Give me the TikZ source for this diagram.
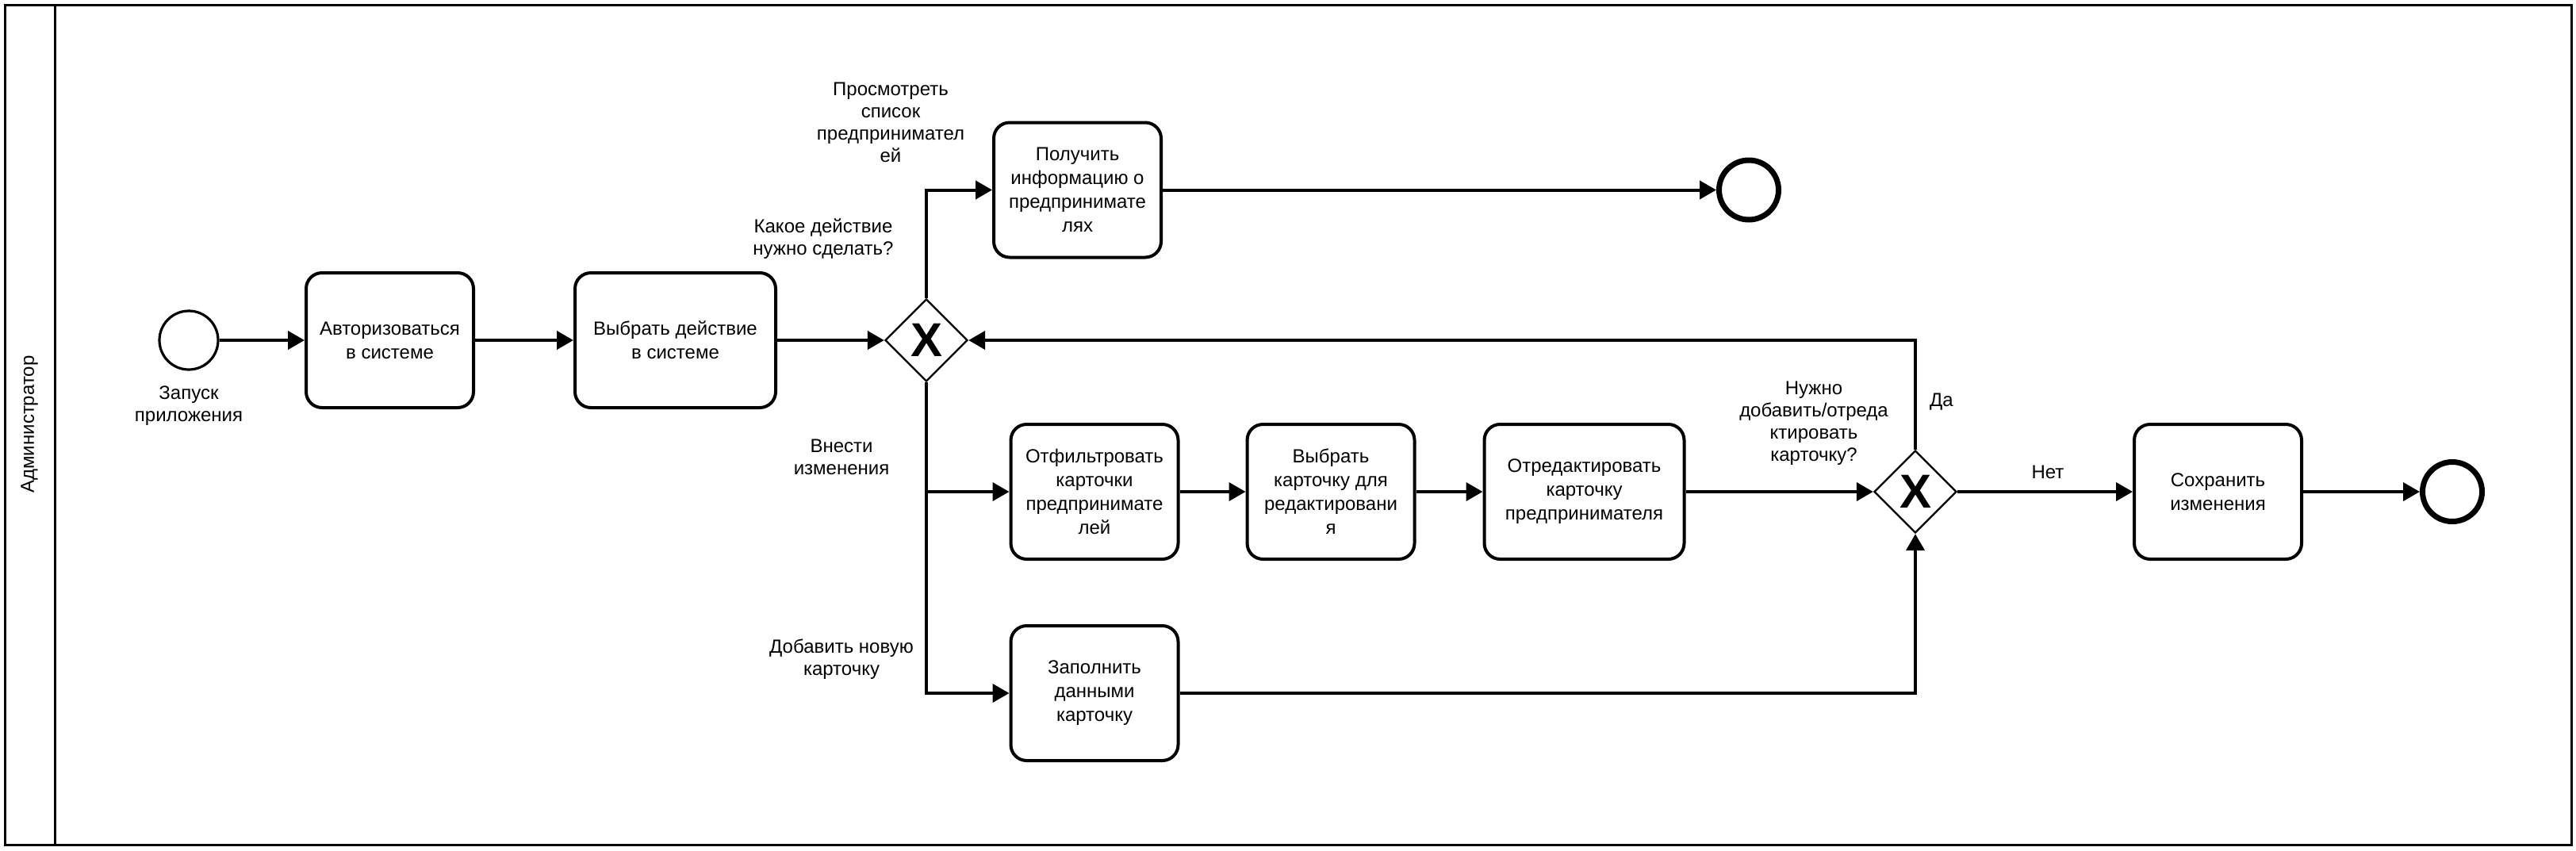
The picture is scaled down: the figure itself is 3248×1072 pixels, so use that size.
\documentclass[tikz,border=0pt]{standalone}
\usepackage{fontspec}
\setmainfont{Liberation Sans}
\usetikzlibrary{arrows.meta, shapes.geometric, positioning}

\begin{document}
\begin{tikzpicture}[
    x=0.5pt, y=-0.5pt,
    font=\fontsize{12}{15}\selectfont,
    task/.style={draw, line width=2pt, rounded corners=10pt, align=center, inner sep=2pt, minimum width=105.5pt, minimum height=85pt},
    gateway/.style={draw, diamond, line width=1.2pt, inner sep=0pt, minimum size=52pt, font=\fontsize{30}{30}\selectfont\bfseries},
    startevent/.style={draw, circle, line width=1.6pt, inner sep=0pt, minimum size=37pt},
    endevent/.style={draw, circle, line width=3.5pt, inner sep=0pt, minimum size=37.5pt},
    note/.style={align=center, inner sep=0pt, font=\fontsize{12}{14}\selectfont},
    arrow/.style={-{Triangle[length=10.5pt, width=11.5pt]}, line width=2pt}
]
\useasboundingbox (0,0) rectangle (3248,1072);

% Pool with one lane
\draw[line width=1.5pt] (6,6) rectangle (3242,1065);
\draw[line width=1.5pt] (69,6) -- (69,1065);
\node[rotate=90] (lane) at (37,535) {Администратор};

% Main row
\node[startevent] (start) at (238,429) {};
\node[task] (auth) at (491.5,429) {Авторизоваться\\в системе};
\node[task, minimum width=126.5pt] (choose) at (851.5,429) {Выбрать действие\\в системе};
\node[gateway] (gw1) at (1168,429) {X};

% Upper branch
\node[task] (info) at (1358.5,239.5) {Получить\\информацию о\\предпринимате\\лях};
\node[endevent] (end1) at (2205,239.5) {};

% Edit branch
\node[task] (filter) at (1380,620) {Отфильтровать\\карточки\\предпринимате\\лей};
\node[task, right=41.5pt of filter] (select) {Выбрать\\карточку для\\редактировани\\я};
\node[task, minimum width=126pt, right=42pt of select] (edit) {Отредактировать\\карточку\\предпринимателя};
\node[gateway] (gw2) at (2415,620) {X};
\node[task] (save) at (2796.5,620) {Сохранить\\изменения};
\node[endevent] (end2) at (3092,620) {};

% Add branch
\node[task] (fill) at (1380,874) {Заполнить\\данными\\карточку};

% Labels
\node[note] (lblstart) at (238,512) {Запуск\\приложения};
\node[note] (lblview) at (1123,154) {Просмотреть\\список\\предпринимател\\ей};
\node[note] (lblwhich) at (1038,301) {Какое действие\\нужно сделать?};
\node[note] (lbledit) at (1061,576) {Внести\\изменения};
\node[note] (lbladd) at (1061,831) {Добавить новую\\карточку};
\node[note] (lblneed) at (2287,534) {Нужно\\добавить/отреда\\ктировать\\карточку?};
\node[note] (lblyes) at (2448,507) {Да};
\node[note] (lblno) at (2582,595) {Нет};

% Flows
\draw[arrow] (start) -- (auth);
\draw[arrow] (auth) -- (choose);
\draw[arrow] (choose) -- (gw1);
\draw[arrow] (gw1.north) |- (info.west);
\draw[arrow] (info) -- (end1);
\draw[arrow] (gw1.south) |- (filter.west);
\draw[arrow] (gw1.south) |- (fill.west);
\draw[arrow] (filter) -- (select);
\draw[arrow] (select) -- (edit);
\draw[arrow] (edit) -- (gw2);
\draw[arrow] (gw2.north) |- (gw1.east);
\draw[arrow] (fill.east) -| (gw2.south);
\draw[arrow] (gw2) -- (save);
\draw[arrow] (save) -- (end2);

\end{tikzpicture}
\end{document}
